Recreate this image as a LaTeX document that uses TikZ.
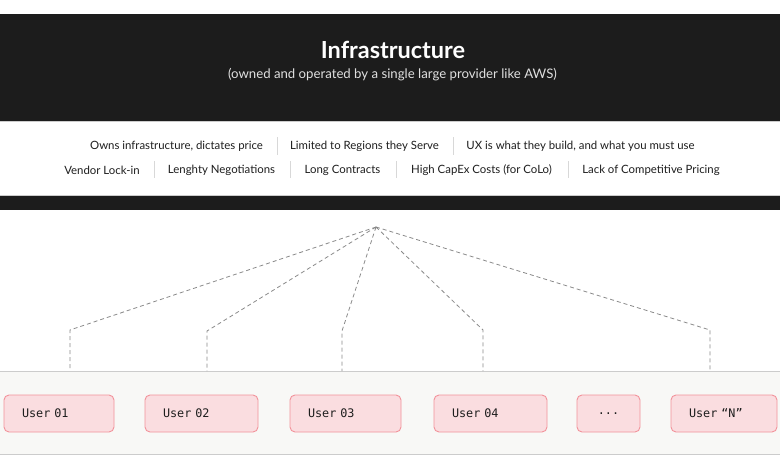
\documentclass[tikz,border=0pt]{standalone}
\usepackage{fontspec}
\setmainfont{Lato}
\newfontfamily\monofont{DejaVu Sans Mono}
\definecolor{bandcol}{HTML}{1C1C1C}
\definecolor{sepcol}{HTML}{D8D8D8}
\definecolor{linecol}{HTML}{8A8A8A}
\definecolor{floorcol}{HTML}{F8F8F6}
\definecolor{floorline}{HTML}{CCCCCC}
\definecolor{pinkfill}{HTML}{FADDE0}
\definecolor{pinkline}{HTML}{F2939B}
\definecolor{textcol}{HTML}{1E1E1E}
\begin{document}
\begin{tikzpicture}[x=1pt,y=-1pt,
  item/.style={font=\fontsize{11.4}{13}\selectfont, text=textcol, inner sep=0pt},
  sepline/.style={draw=sepcol, line width=0.8pt},
  userbox/.style={draw=pinkline, fill=pinkfill, line width=0.9pt, rounded corners=5pt,
    minimum height=37pt, inner xsep=18pt, text width=#1, align=left,
    font=\monofont\fontsize{11.8}{13}\selectfont, text=textcol},
  dotbox/.style={draw=pinkline, fill=pinkfill, line width=0.9pt, rounded corners=5pt,
    minimum height=37pt, minimum width=63pt, align=center,
    font=\monofont\fontsize{11.8}{13}\selectfont, text=textcol},
  link/.style={draw=linecol, line width=0.8pt, dash pattern=on 4pt off 3pt}]
\useasboundingbox (0,0) rectangle (780,461);
\fill[white] (0,0) rectangle (780,461);
% dark band
\node[fill=bandcol, minimum width=780pt, minimum height=196pt, inner sep=0pt, anchor=north west] (band) at (0,14) {};
\node[text=white, font=\fontsize{23.5}{28}\selectfont\bfseries] (title) at (393,50) {Infrastructure};
\node[text=white!88!black, font=\fontsize{13.2}{16}\selectfont] (subtitle) at (392.5,75) {(owned and operated by a single large provider like AWS)};
% white panel
\node[fill=white, draw=floorline, line width=0.6pt, minimum width=782pt, minimum height=74pt, inner sep=0pt, anchor=north west] (panel) at (-1,121) {};
% row 1
\node[item] (a1) at (176.5,146) {Owns infrastructure, dictates price};
\node[item] (a2) at (364.5,146) {Limited to Regions they Serve};
\node[item] (a3) at (580.5,146) {UX is what they build, and what you must use};
\draw[sepline] (277,137) -- (277,155);
\draw[sepline] (453,137) -- (453,155);
% row 2
\node[item] (b1) at (102,170) {Vendor Lock-in};
\node[item] (b2) at (221.5,170) {Lenghty Negotiations};
\node[item] (b3) at (342.5,170) {Long Contracts};
\node[item] (b4) at (481.5,170) {High CapEx Costs (for CoLo)};
\node[item] (b5) at (651,170) {Lack of Competitive Pricing};
\draw[sepline] (154,161) -- (154,178);
\draw[sepline] (290,161) -- (290,178);
\draw[sepline] (396,161) -- (396,178);
\draw[sepline] (568,161) -- (568,178);
% floor
\node[fill=floorcol, minimum width=782pt, minimum height=83pt, inner sep=0pt, anchor=north west] (floor) at (-1,371) {};
\draw[floorline, line width=0.8pt] (floor.north west) -- (floor.north east);
\draw[floorline, line width=0.8pt] (floor.south west) -- (floor.south east);
% users
\node[userbox=74pt] (u1) at (59,413.5) {User 01};
\node[userbox=77pt] (u2) at (201.5,413.5) {User 02};
\node[userbox=75pt] (u3) at (345.5,413.5) {User 03};
\node[userbox=77pt] (u4) at (490.5,413.5) {User 04};
\node[dotbox] (u5) at (608.5,413.5) {...};
\node[userbox=70pt] (un) at (724,413.5) {User “N”};
% connectors
\coordinate (apex) at (376,227);
\coordinate (k1) at (70,330);
\coordinate (k2) at (207,331);
\coordinate (k3) at (342,331);
\coordinate (k4) at (483,330);
\coordinate (k5) at (710,330);
\foreach \k in {k1,k2,k3,k4,k5}{
  \draw[link] (apex) -- (\k) -- (\k |- floor.north);
}
\end{tikzpicture}
\end{document}
